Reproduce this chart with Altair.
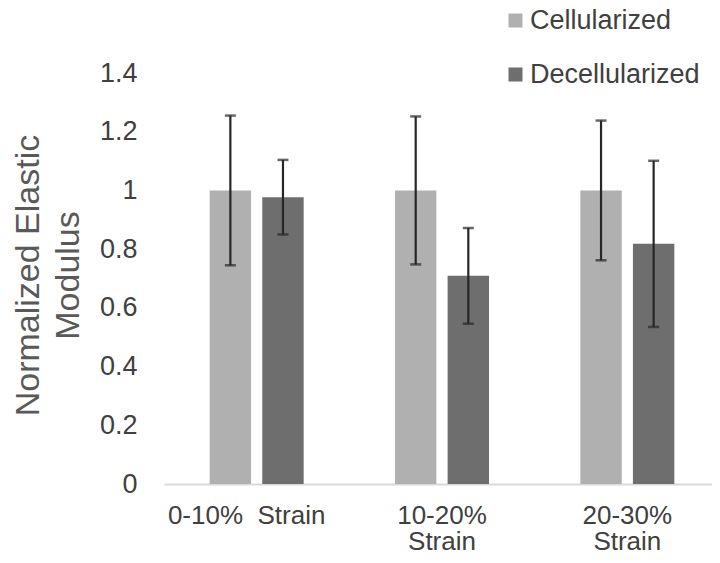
import altair as alt
import pandas as pd

groups = ["0-10% Strain", "10-20% Strain", "20-30% Strain"]
series = ["Cellularized", "Decellularized"]
cell_mean = [1.0, 1.0, 1.0]
cell_err = [0.255, 0.252, 0.238]
dec_mean = [0.977, 0.709, 0.818]
dec_err = [0.127, 0.163, 0.283]
y_ticks = [0, 0.2, 0.4, 0.6, 0.8, 1.0, 1.2, 1.4]

rows = []
for g, m, e in zip(groups, cell_mean, cell_err):
    rows.append({"group": g, "series": series[0], "value": m, "lo": m - e, "hi": m + e})
for g, m, e in zip(groups, dec_mean, dec_err):
    rows.append({"group": g, "series": series[1], "value": m, "lo": m - e, "hi": m + e})
df = pd.DataFrame(rows)

FONT = "Liberation Sans"

x = alt.X("group:N", sort=groups, title=None,
          scale=alt.Scale(paddingInner=0, paddingOuter=0, range=[0, 556]),
          axis=alt.Axis(labelAngle=0, ticks=False, domain=True, domainColor="#d9d9d9",
                        domainWidth=2, labelFontSize=26, labelColor="#404040", labelFont=FONT,
                        labelPadding=18, labelLineHeight=26, labelBaseline="top",
                        labelOffset={"condition": {"test": "datum.value == '0-10% Strain'", "value": -10}, "value": 0},
                        labelExpr="datum.value == '0-10% Strain' ? '0-10%\u00a0\u00a0Strain' : split(datum.value, ' ')"))
xo = alt.XOffset("series:N", sort=series, scale=alt.Scale(paddingInner=0.213, paddingOuter=0.868))

y = alt.Y("value:Q", scale=alt.Scale(domain=[0, 1.4], nice=False),
          title=["Normalized Elastic", "Modulus"],
          axis=alt.Axis(values=y_ticks, format="~g", grid=False, ticks=False, domain=False,
                        labelFontSize=27, labelColor="#404040", labelFont=FONT, labelPadding=27,
                        titleFontSize=34, titleFont=FONT, titleColor="#595959", titleFontWeight="normal",
                        titleX=-136, titleY=202, titleAlign="center", titleBaseline="middle",
                        titleLineHeight=40, titleAngle=270))

bars = alt.Chart(df).mark_bar().encode(
    x=x, xOffset=xo, y=y,
    color=alt.Color("series:N", sort=series,
                    scale=alt.Scale(domain=series, range=["#b0b0b0", "#6e6e6e"]),
                    legend=alt.Legend(title=None, orient="none", legendX=338, legendY=-66,
                                      symbolType="square", symbolSize=196, symbolStrokeWidth=0,
                                      labelFontSize=27, labelFont=FONT, labelColor="#404040",
                                      labelLimit=400, rowPadding=26, labelOffset=1, padding=0)),
)

rules = alt.Chart(df).mark_rule(color="#262626", strokeWidth=2.2).encode(
    x=x, xOffset=xo, y=alt.Y("lo:Q"), y2="hi:Q")
caps_hi = alt.Chart(df).mark_tick(color="#262626", thickness=2.5, size=11, orient="horizontal").encode(
    x=x, xOffset=xo, y=alt.Y("hi:Q"))
caps_lo = alt.Chart(df).mark_tick(color="#262626", thickness=2.5, size=11, orient="horizontal").encode(
    x=x, xOffset=xo, y=alt.Y("lo:Q"))

chart = alt.layer(bars, rules, caps_hi, caps_lo).properties(
    width=548, height=411,
    autosize=alt.AutoSizeParams(type="none"),
    padding={"left": 156, "top": 65, "right": 0, "bottom": 71},
    background="white",
).configure_view(stroke=None)

chart.save("out.html", embed_options={"renderer": "svg", "actions": False})
